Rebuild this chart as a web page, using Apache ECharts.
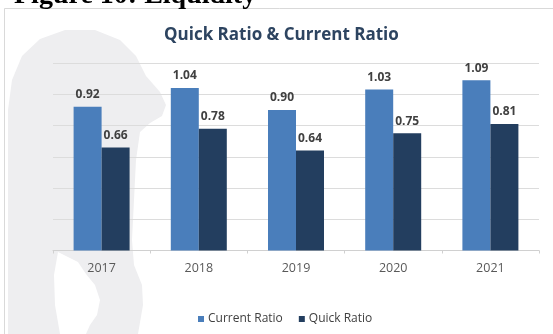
<!DOCTYPE html>
<html>
<head>
<meta charset="utf-8">
<script src="https://cdn.jsdelivr.net/npm/echarts@6/dist/echarts.min.js"></script>
<style>
  html, body { margin: 0; padding: 0; background: #ffffff; }
  #chart { width: 553px; height: 334px; }
</style>
</head>
<body>
<div id="chart"></div>
<script>
// Liquidity ratios by fiscal year
const years = ['2017', '2018', '2019', '2020', '2021'];
const currentRatio = [0.92, 1.04, 0.90, 1.03, 1.09];
const quickRatio = [0.66, 0.78, 0.64, 0.75, 0.81];
const seriesNames = ['Current Ratio', 'Quick Ratio'];

const chart = echarts.init(document.getElementById('chart'), null, { renderer: 'canvas' });

const labelStyle = {
  show: true,
  position: 'top',
  distance: 6,
  fontFamily: 'Open Sans',
  fontWeight: 'bold',
  fontSize: 12,
  color: '#404040',
  formatter: p => p.value.toFixed(2)
};

chart.setOption({
  backgroundColor: '#ffffff',
  animation: false,
  graphic: [
    // panel frame
    {
      type: 'rect', z: -20,
      shape: { x: 4.5, y: 8.5, width: 600, height: 400 },
      style: { fill: '#ffffff', stroke: '#d9d9d9', lineWidth: 1 }
    },
    // faint emblem behind the plot
    {
      type: 'polygon', z: -10,
      shape: {
        points: [
          [8, 334], [8, 110], [12, 80], [22, 56], [40, 39], [65, 30], [95, 30],
          [120, 40], [136, 56], [146, 76], [160, 92], [166, 105], [162, 116],
          [150, 123], [140, 132], [136, 160], [134, 200], [132, 240], [134, 265],
          [142, 285], [143, 305], [138, 334]
        ]
      },
      style: { fill: '#eeeef0' }
    },
    {
      type: 'polygon', z: -9,
      shape: {
        points: [
          [58, 252], [68, 257], [78, 262], [86, 274], [95, 285], [100, 300],
          [97, 315], [90, 325], [86, 334], [60, 334], [55, 305], [54, 275]
        ]
      },
      style: { fill: '#ffffff' }
    },
    // section heading above the panel
    {
      type: 'text', z: 10,
      left: 14, top: -18,
      style: {
        text: 'Figure 10: Liquidity',
        font: 'bold 28px "Liberation Serif"',
        fill: '#000000'
      }
    }
  ],
  title: {
    text: 'Quick Ratio & Current Ratio',
    left: 159,
    top: 22,
    textStyle: {
      fontFamily: 'Open Sans',
      fontWeight: 'bold',
      fontSize: 17,
      color: '#2d4460'
    }
  },
  legend: {
    data: seriesNames,
    bottom: 4,
    left: 193,
    itemWidth: 6,
    itemHeight: 6,
    itemGap: 16,
    icon: 'rect',
    textStyle: {
      fontFamily: 'Open Sans',
      fontSize: 12,
      color: '#404040',
      padding: [0, 0, 0, -1]
    }
  },
  grid: { left: 53, right: 14, top: 63, bottom: 83.5, containLabel: false },
  xAxis: {
    type: 'category',
    data: years,
    axisLine: { lineStyle: { color: '#d0d0d0' } },
    axisTick: { show: true, length: 3, lineStyle: { color: '#d0d0d0' } },
    axisLabel: { fontFamily: 'Open Sans', fontSize: 12.5, color: '#595959', margin: 11 }
  },
  yAxis: {
    type: 'value',
    min: 0,
    max: 1.2,
    interval: 0.2,
    axisLabel: { show: false },
    axisLine: { show: false },
    axisTick: { show: false },
    splitLine: { lineStyle: { color: '#dcdcdc' } }
  },
  series: [
    {
      name: seriesNames[0],
      type: 'bar',
      data: currentRatio,
      barWidth: 28,
      barGap: '0%',
      itemStyle: { color: '#4a7ebb' },
      label: labelStyle
    },
    {
      name: seriesNames[1],
      type: 'bar',
      data: quickRatio,
      barWidth: 28,
      barGap: '0%',
      itemStyle: { color: '#233e5f' },
      label: labelStyle
    }
  ]
});
</script>
</body>
</html>
